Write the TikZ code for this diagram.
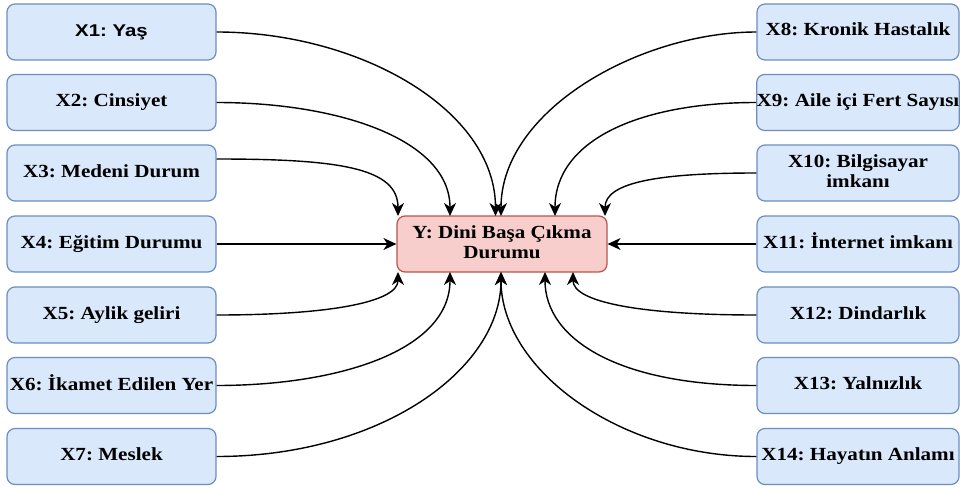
\documentclass[tikz,border=0pt]{standalone}
\usepackage{fontspec}
\setmainfont{Liberation Serif}
\newfontfamily\arialf{Liberation Sans}
\usetikzlibrary{arrows.meta}
\frenchspacing
\definecolor{bfill}{HTML}{DAE8FC}
\definecolor{bdraw}{HTML}{6C8EBF}
\definecolor{rfill}{HTML}{F8CECC}
\definecolor{rdraw}{HTML}{B85450}
\newcommand{\stxt}[1]{\scalebox{1.14}[1]{\begin{tabular}{@{}c@{}}#1\end{tabular}}}
\tikzset{
  varbox/.style={draw=bdraw, fill=bfill, line width=1.2pt, rounded corners=8pt,
    minimum height=56pt, inner sep=0pt, font=\bfseries\fontsize{18.5}{20}\selectfont},
  lbox/.style={varbox, minimum width=209pt},
  rbox/.style={varbox, minimum width=202pt},
  ybox/.style={draw=rdraw, fill=rfill, line width=1.2pt, rounded corners=8pt,
    minimum height=56pt, minimum width=210pt, inner sep=0pt,
    font=\bfseries\fontsize{18.5}{20}\selectfont},
  conn/.style={line width=1.4pt, -{Stealth[length=13pt,width=12pt,inset=4pt]}}
}
\begin{document}
\begin{tikzpicture}[x=1pt,y=-1pt]
\useasboundingbox[fill=white] (0,0) rectangle (960,487);
% left boxes
\node[lbox] (x1) at (111.5,32) {\arialf\scalebox{1.2}[1]{\fontsize{17}{20}\selectfont X1: Yaş}};
\node[lbox] (x2) at (111.5,102.5) {\stxt{X2: Cinsiyet}};
\node[lbox] (x3) at (111.5,173) {\stxt{X3: Medeni Durum}};
\node[lbox] (x4) at (111.5,244) {\stxt{X4: Eğitim Durumu}};
\node[lbox] (x5) at (111.5,315) {\stxt{X5: Aylik geliri}};
\node[lbox] (x6) at (111.5,385.5) {\stxt{X6: İkamet Edilen Yer}};
\node[lbox] (x7) at (111.5,456.5) {\stxt{X7: Meslek}};
% right boxes
\node[rbox] (x8) at (858,32) {\stxt{X8: Kronik Hastalık}};
\node[rbox] (x9) at (858,102.5) {\stxt{X9: Aile içi Fert Sayısı}};
\node[rbox] (x10) at (858,173) {\stxt{X10: Bilgisayar\\imkanı}};
\node[rbox] (x11) at (858,244) {\stxt{X11: İnternet imkanı}};
\node[rbox] (x12) at (858,315) {\stxt{X12: Dindarlık}};
\node[rbox] (x13) at (858,385.5) {\stxt{X13: Yalnızlık}};
\node[rbox] (x14) at (858,456.5) {\stxt{X14: Hayatın Anlamı}};
% center
\node[ybox] (y) at (502,244) {\stxt{Y: Dini Başa Çıkma\\Durumu}};
% entry points
\coordinate (s3) at ([yshift=14pt]x3.east);
\coordinate (t1) at (495.5,216);
\coordinate (t2) at (450,216);
\coordinate (t3) at (398,216);
\coordinate (t8) at (501,216);
\coordinate (t9) at (555,216);
\coordinate (t10) at (605,216);
\coordinate (b5) at (398,272);
\coordinate (b6) at (450,272);
\coordinate (b7) at (501,272);
\coordinate (b12) at (573,272);
\coordinate (b13) at (545,272);
% connectors left
\draw[conn] (x1.east) .. controls (360,32) and (495.5,110) .. (t1);
\draw[conn] (x2.east) .. controls (340,102.5) and (450,140) .. (t2);
\draw[conn] (s3) .. controls (340,159) and (398,168) .. (t3);
\draw[conn] (x4.east) -- (y.west);
\draw[conn] (x5.east) .. controls (330,315) and (398,302) .. (b5);
\draw[conn] (x6.east) .. controls (340,385.5) and (450,350) .. (b6);
\draw[conn] (x7.east) .. controls (380,456.5) and (501,370) .. (b7);
% connectors right
\draw[conn] (x8.west) .. controls (640,32) and (501,110) .. (t8);
\draw[conn] (x9.west) .. controls (640,102.5) and (555,140) .. (t9);
\draw[conn] (x10.west) .. controls (660,173) and (605,182) .. (t10);
\draw[conn] (x11.west) -- (y.east);
\draw[conn] (x12.west) .. controls (640,315) and (573,302) .. (b12);
\draw[conn] (x13.west) .. controls (620,385.5) and (545,340) .. (b13);
\draw[conn] (x14.west) .. controls (620,456.5) and (501,370) .. (b7);
\end{tikzpicture}
\end{document}
